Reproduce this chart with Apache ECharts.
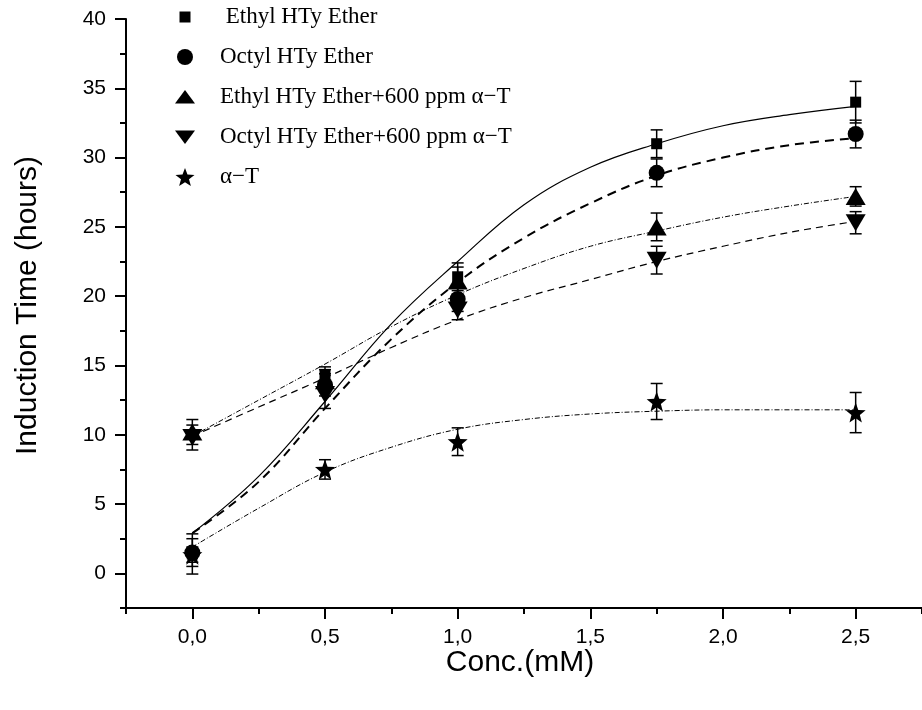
<!DOCTYPE html>
<html>
<head>
<meta charset="utf-8">
<script src="https://cdn.jsdelivr.net/npm/echarts@6/dist/echarts.min.js"></script>
<style>
  html, body { margin: 0; padding: 0; background: #fff; }
  #chart { width: 922px; height: 710px; }
</style>
</head>
<body>
<div id="chart"></div>
<script>
// Measured points (concentration in mM, induction time in hours, ± error)
const conc = [0, 0.5, 1.0, 1.75, 2.5];

const ethyl      = [1.4, 14.3, 21.4, 31.0, 34.0];
const ethylErr   = [1.45, 0.6, 1.0, 1.0, 1.5];
const octyl      = [1.5, 13.6, 19.8, 28.9, 31.7];
const octylErr   = [1.0, 0.8, 0.9, 1.0, 1.0];
const ethylAT    = [10.2, 13.9, 21.1, 25.0, 27.2];
const ethylATErr = [0.9, 0.8, 1.0, 1.0, 0.7];
const octylAT    = [9.8, 12.9, 19.0, 22.6, 25.3];
const octylATErr = [0.9, 1.0, 0.7, 1.0, 0.8];
const alphaT     = [1.35, 7.5, 9.5, 12.4, 11.6];
const alphaTErr  = [0.55, 0.7, 1.0, 1.3, 1.45];

// Fitted curves, sampled along the concentration axis
const fitX       = [0, 0.25, 0.5, 0.75, 1.0, 1.25, 1.5, 1.75, 2.0, 2.25, 2.5];
const ethylFit   = [2.9, 7.0, 12.4, 18.0, 22.5, 26.6, 29.3, 31.0, 32.3, 33.1, 33.7];
const octylFit   = [2.9, 6.6, 11.9, 16.9, 21.0, 24.2, 26.7, 28.7, 30.0, 30.9, 31.4];
const ethylATFit = [9.9, 12.5, 15.1, 17.8, 20.1, 22.0, 23.6, 24.7, 25.7, 26.5, 27.2];
const octylATFit = [9.9, 12.0, 14.1, 16.3, 18.3, 19.9, 21.2, 22.5, 23.6, 24.6, 25.4];
const alphaTFit  = [1.9, 4.7, 7.3, 9.1, 10.4, 11.1, 11.5, 11.7, 11.8, 11.8, 11.8];

// Series names and axis ticks
const names = [' Ethyl HTy Ether', 'Octyl HTy Ether', 'Ethyl HTy Ether+600 ppm \u03b1\u2212T',
               'Octyl HTy Ether+600 ppm \u03b1\u2212T', '\u03b1\u2212T'];
const xMajor = [0, 0.5, 1.0, 1.5, 2.0, 2.5];
const xMinor = [-0.25, 0.25, 0.75, 1.25, 1.75, 2.25, 2.75];
const yMajor = [0, 5, 10, 15, 20, 25, 30, 35, 40];
const yMinor = [-2.5, 2.5, 7.5, 12.5, 17.5, 22.5, 27.5, 32.5, 37.5];

const STAR = 'M10,1 L12.47,7.6 L19.51,7.91 L13.99,12.3 L15.88,19.09 L10,15.2 L4.12,19.09 L6.01,12.3 L0.49,7.91 L7.53,7.6 Z';
const DOWN = 'M0,0 L20,0 L10,17 Z';

// Legend icons share a padded 20x20 box so their sizes stay proportional
const legendIcons = [
  'path://M0,0M20,20M4.5,4.5L15.5,4.5L15.5,15.5L4.5,15.5Z',
  'path://M0,0M20,20M2,10A8,8 0 1,0 18,10A8,8 0 1,0 2,10Z',
  'path://M0,0M20,20M0,16.5L10,3L20,16.5Z',
  'path://M0,0M20,20M0,3.5L20,3.5L10,17Z',
  'path://M0,0M20,20' + STAR
];

const markers = [
  { symbol: 'rect', size: 11 },
  { symbol: 'circle', size: 16 },
  { symbol: 'triangle', size: [20, 17] },
  { symbol: 'path://' + DOWN, size: [20, 17] },
  { symbol: 'path://' + STAR, size: 20 }
];

const values = [ethyl, octyl, ethylAT, octylAT, alphaT];
const errs = [ethylErr, octylErr, ethylATErr, octylATErr, alphaTErr];
const fits = [ethylFit, octylFit, ethylATFit, octylATFit, alphaTFit];
const fitStyles = [
  { width: 1.2, type: 'solid' },
  { width: 2, type: [9, 6] },
  { width: 1, type: [5, 2, 1, 2] },
  { width: 1.2, type: [7, 5] },
  { width: 1, type: [5, 2, 1, 2] }
];

const series = [];

fits.forEach((f, k) => {
  series.push({
    type: 'line',
    name: 'fit' + k,
    data: fitX.map((x, i) => [x, f[i]]),
    smooth: 0.4,
    symbol: 'none',
    silent: true,
    z: 2,
    lineStyle: { color: '#000', width: fitStyles[k].width, type: fitStyles[k].type }
  });
});

errs.forEach((e, k) => {
  series.push({
    type: 'custom',
    name: 'err' + k,
    data: conc.map((c, i) => [c, values[k][i], e[i]]),
    encode: { x: 0, y: 1 },
    silent: true,
    z: 3,
    itemStyle: { color: '#000' },
    renderItem: (params, api) => {
      const x = api.value(0), y = api.value(1), d = api.value(2);
      const top = api.coord([x, y + d]);
      const bot = api.coord([x, y - d]);
      const hw = 6;
      const style = { stroke: '#000', lineWidth: 1.5, fill: null };
      return {
        type: 'group',
        children: [
          { type: 'line', shape: { x1: top[0], y1: top[1], x2: bot[0], y2: bot[1] }, style },
          { type: 'line', shape: { x1: top[0] - hw, y1: top[1], x2: top[0] + hw, y2: top[1] }, style },
          { type: 'line', shape: { x1: bot[0] - hw, y1: bot[1], x2: bot[0] + hw, y2: bot[1] }, style }
        ]
      };
    }
  });
});

values.forEach((v, k) => {
  series.push({
    type: 'scatter',
    name: names[k],
    data: conc.map((c, i) => [c, v[i]]),
    symbol: markers[k].symbol,
    symbolSize: markers[k].size,
    itemStyle: { color: '#000', opacity: 1 },
    z: 4
  });
});

const axisFont = { fontFamily: 'Liberation Sans', fontSize: 21, color: '#000' };
const titleFont = { fontFamily: 'Liberation Sans', fontSize: 30, color: '#000' };
const lineStyle = { color: '#000', width: 2 };

const option = {
  animation: false,
  backgroundColor: '#fff',
  color: ['#000'],
  grid: { left: 126, top: 19, right: -6, bottom: 102 },
  legend: {
    orient: 'vertical',
    left: 170,
    top: 0,
    itemWidth: 60,
    itemHeight: 20,
    itemGap: 16,
    symbolKeepAspect: true,
    selectedMode: false,
    textStyle: { fontFamily: 'Liberation Serif', fontSize: 23, color: '#000', lineHeight: 20, padding: [4, 0, 0, 0] },
    data: names.map((n, k) => ({ name: n, icon: legendIcons[k], itemStyle: { color: '#000' } }))
  },
  xAxis: [
    {
      type: 'value', min: -0.25, max: 2.75, position: 'bottom',
      name: 'Conc.(mM)', nameLocation: 'middle', nameGap: 40, nameMoveOverlap: false,
      nameTextStyle: { ...titleFont, padding: [0, 8, 0, 0] },
      axisLine: { show: true, onZero: false, lineStyle },
      axisTick: { show: true, inside: false, length: 11, lineStyle, customValues: xMajor },
      axisLabel: { ...axisFont, margin: 19, customValues: xMajor,
        formatter: v => v.toFixed(1).replace('.', ',') },
      splitLine: { show: false }
    },
    {
      type: 'value', min: -0.25, max: 2.75, position: 'bottom',
      axisLine: { show: false, onZero: false },
      axisTick: { show: true, inside: false, length: 6, lineStyle, customValues: xMinor },
      axisLabel: { show: false },
      splitLine: { show: false }
    }
  ],
  yAxis: [
    {
      type: 'value', min: -2.5, max: 40, position: 'left',
      name: 'Induction Time (hours)', nameLocation: 'middle', nameGap: 83, nameMoveOverlap: false,
      nameTextStyle: { ...titleFont, padding: [0, 0, 0, 16] },
      axisLine: { show: true, onZero: false, lineStyle },
      axisTick: { show: true, inside: false, length: 11, lineStyle, customValues: yMajor },
      axisLabel: { ...axisFont, margin: 20, customValues: yMajor },
      splitLine: { show: false }
    },
    {
      type: 'value', min: -2.5, max: 40, position: 'left',
      axisLine: { show: false, onZero: false },
      axisTick: { show: true, inside: false, length: 6, lineStyle, customValues: yMinor },
      axisLabel: { show: false },
      splitLine: { show: false }
    }
  ],
  series: series
};

const chart = echarts.init(document.getElementById('chart'), null, { renderer: 'canvas' });
chart.setOption(option);
</script>
</body>
</html>
